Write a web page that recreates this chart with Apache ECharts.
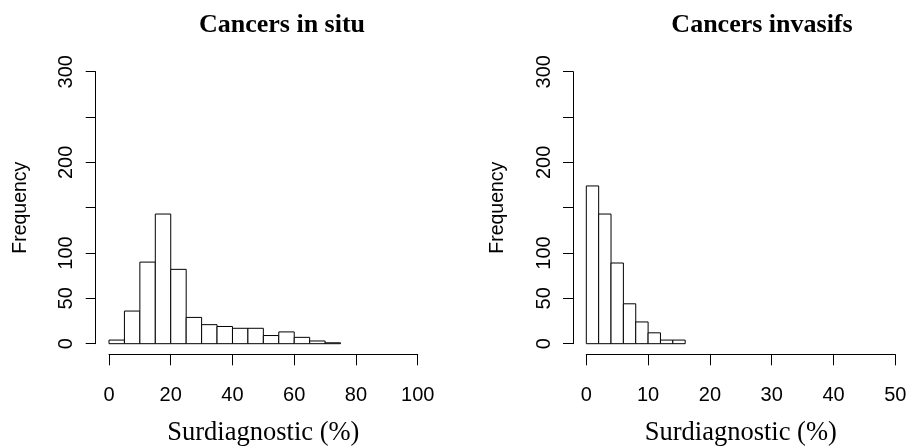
<!DOCTYPE html>
<html>
<head>
<meta charset="utf-8">
<script src="https://cdn.jsdelivr.net/npm/echarts@6/dist/echarts.min.js"></script>
<style>
  html, body { margin: 0; padding: 0; background: #fff; }
  #chart { width: 907px; height: 446px; }
</style>
</head>
<body>
<div id="chart"></div>
<script>
// histogram bins (lower edges) and counts
const inSituWidth = 5;
const inSituStarts = [0, 5, 10, 15, 20, 25, 30, 35, 40, 45, 50, 55, 60, 65, 70];
const inSituCounts = [4, 36, 90, 143, 82, 29, 21, 19, 17, 17, 9, 13, 7, 3, 1];

const invasifWidth = 2;
const invasifStarts = [0, 2, 4, 6, 8, 10, 12, 14];
const invasifCounts = [174, 143, 89, 44, 24, 12, 4, 4];

const yTicks = [0, 50, 100, 200, 300]; // 150 and 250 have ticks but no label

const SANS = "Liberation Sans, Arial, sans-serif";
const SERIF = "Liberation Serif, Times New Roman, serif";

function histData(starts, counts, width) {
  return starts.map((s, i) => [s, s + width, counts[i]]);
}

function renderBin(params, api) {
  const p0 = api.coord([api.value(0), api.value(2)]);
  const p1 = api.coord([api.value(1), 0]);
  return {
    type: "rect",
    shape: { x: p0[0], y: p0[1], width: p1[0] - p0[0], height: p1[1] - p0[1] },
    style: { fill: "#fff", stroke: "#000", lineWidth: 1 }
  };
}

function xAxisFor(gridIndex, max, interval) {
  return {
    type: "value",
    gridIndex,
    min: 0,
    max,
    interval,
    offset: 10.6,
    splitLine: { show: false },
    axisLine: { show: true, onZero: false, lineStyle: { color: "#000", width: 1 } },
    axisTick: { show: true, length: 11, lineStyle: { color: "#000" } },
    axisLabel: { color: "#000", fontFamily: SANS, fontSize: 20, margin: 31 },
    name: "Surdiagnostic (%)",
    nameLocation: "middle",
    nameGap: 65,
    nameTextStyle: { color: "#000", fontFamily: SERIF, fontSize: 26.5 }
  };
}

function yAxisFor(gridIndex) {
  return {
    type: "value",
    gridIndex,
    min: 0,
    max: 300,
    interval: 50,
    offset: 13.3,
    splitLine: { show: false },
    axisLine: { show: true, onZero: false, lineStyle: { color: "#000", width: 1 } },
    axisTick: { show: true, length: 10, lineStyle: { color: "#000" } },
    axisLabel: {
      color: "#000",
      fontFamily: SANS,
      fontSize: 20,
      rotate: 90,
      margin: 19,
      formatter: (v) => (yTicks.indexOf(v) >= 0 ? String(v) : "")
    },
    name: "Frequency",
    nameLocation: "middle",
    nameRotate: 90,
    nameGap: 65.5,
    nameTextStyle: { color: "#000", fontFamily: SANS, fontSize: 19.5 }
  };
}

const chart = echarts.init(document.getElementById("chart"), null, { renderer: "canvas" });

chart.setOption({
  backgroundColor: "#fff",
  animation: false,
  grid: [
    { left: 109, top: 71.7, width: 308.7, height: 272, outerBoundsMode: "none", containLabel: false },
    { left: 586.3, top: 71.7, width: 309, height: 272, outerBoundsMode: "none", containLabel: false }
  ],
  xAxis: [xAxisFor(0, 100, 20), xAxisFor(1, 50, 10)],
  yAxis: [yAxisFor(0), yAxisFor(1)],
  graphic: [
    {
      type: "text",
      x: 282,
      y: 25,
      style: {
        text: "Cancers in situ",
        fill: "#000",
        font: "bold 26px " + SERIF,
        textAlign: "center",
        textVerticalAlign: "middle"
      }
    },
    {
      type: "text",
      x: 762,
      y: 25,
      style: {
        text: "Cancers invasifs",
        fill: "#000",
        font: "bold 26px " + SERIF,
        textAlign: "center",
        textVerticalAlign: "middle"
      }
    }
  ],
  series: [
    {
      type: "custom",
      xAxisIndex: 0,
      yAxisIndex: 0,
      renderItem: renderBin,
      encode: { x: [0, 1], y: 2 },
      data: histData(inSituStarts, inSituCounts, inSituWidth)
    },
    {
      type: "custom",
      xAxisIndex: 1,
      yAxisIndex: 1,
      renderItem: renderBin,
      encode: { x: [0, 1], y: 2 },
      data: histData(invasifStarts, invasifCounts, invasifWidth)
    }
  ]
});
</script>
</body>
</html>
